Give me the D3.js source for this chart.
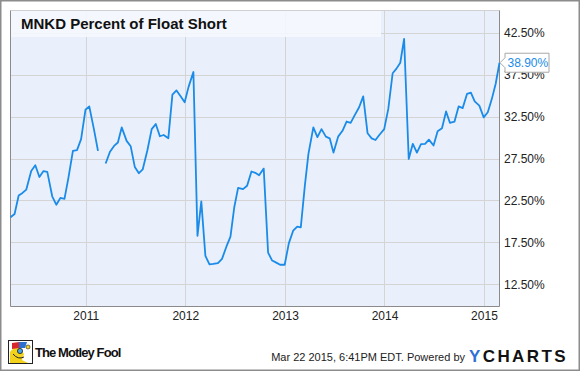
<!DOCTYPE html>
<html>
<head>
<title>MNKD Percent of Float Short</title>
<script src="https://d3js.org/d3.v7.min.js"></script>
<style>
  html, body { margin:0; padding:0; background:#fff; }
  svg { display:block; font-family:"Liberation Sans", Arial, sans-serif; }
</style>
</head>
<body>
<svg id="chart"></svg>
<script>
// short interest as % of float, reported twice a month
var dates = [
  "2010-03-31","2010-04-15","2010-04-30","2010-05-14","2010-05-28","2010-06-15","2010-06-30","2010-07-15","2010-07-30","2010-08-13",
  "2010-08-31","2010-09-15","2010-09-30","2010-10-15","2010-10-29","2010-11-15","2010-11-30","2010-12-15","2010-12-31",
  "2011-01-14","2011-01-31","2011-02-15","2011-02-28","2011-03-15","2011-03-31","2011-04-15","2011-04-29","2011-05-13","2011-05-31",
  "2011-06-15","2011-06-30","2011-07-15","2011-07-29","2011-08-15","2011-08-31","2011-09-15","2011-09-30","2011-10-14","2011-10-31",
  "2011-11-15","2011-11-30","2011-12-15","2011-12-30",
  "2012-01-13","2012-01-31","2012-02-15","2012-02-29","2012-03-15","2012-03-30","2012-04-13","2012-04-30","2012-05-15","2012-05-31",
  "2012-06-15","2012-06-29","2012-07-13","2012-07-31","2012-08-15","2012-08-31","2012-09-14","2012-09-28","2012-10-15","2012-10-31",
  "2012-11-15","2012-11-30","2012-12-14","2012-12-31",
  "2013-01-15","2013-01-31","2013-02-15","2013-02-28","2013-03-15","2013-03-28","2013-04-15","2013-04-30","2013-05-15","2013-05-31",
  "2013-06-14","2013-06-28","2013-07-15","2013-07-31","2013-08-15","2013-08-30","2013-09-13","2013-09-30","2013-10-15","2013-10-31",
  "2013-11-15","2013-11-29","2013-12-13","2013-12-31",
  "2014-01-15","2014-01-31","2014-02-14","2014-02-28","2014-03-14","2014-03-31","2014-04-15","2014-04-30","2014-05-15","2014-05-30",
  "2014-06-13","2014-06-30","2014-07-15","2014-07-31","2014-08-15","2014-08-29","2014-09-15","2014-09-30","2014-10-15","2014-10-31",
  "2014-11-14","2014-11-28","2014-12-15","2014-12-31",
  "2015-01-15","2015-01-30","2015-02-13","2015-02-27"
];
var values = [
  20.5,20.9,23.1,23.4,23.8,26.0,26.7,25.3,26.0,25.9,
  23.0,22.0,22.8,22.7,25.1,28.4,28.5,29.8,33.3,
  33.7,31.0,28.4,null,26.9,28.3,29.0,29.4,31.2,29.6,
  28.95,26.5,25.75,26.2,28.45,31.0,31.6,30.15,30.3,29.9,
  35.1,35.6,34.9,34.2,
  36.0,37.8,18.3,22.4,15.9,14.9,14.95,15.05,15.55,17.0,
  18.2,21.7,24.0,23.85,24.25,25.95,25.8,25.5,26.3,16.3,
  15.35,15.1,14.85,14.85,
  17.4,18.9,19.4,19.3,24.3,28.05,31.2,30.05,31.0,30.1,
  29.9,28.2,30.1,30.8,31.9,31.75,32.6,33.6,34.9,30.5,
  29.9,29.7,30.3,31.0,
  33.4,37.65,38.2,38.9,41.75,27.45,29.25,28.2,29.2,29.25,
  29.75,29.05,30.75,31.1,33.1,31.75,31.9,33.7,33.5,35.2,
  35.35,34.3,33.8,32.4,
  33.0,34.6,36.4,38.9
];
var yTicks = [12.5, 17.5, 22.5, 27.5, 32.5, 37.5, 42.5];
var xTicks = ["2011-01-01","2012-01-01","2013-01-01","2014-01-01","2015-01-01"];
var title = "MNKD Percent of Float Short";
var lastLabel = "38.90%";
var stamp = "Mar 22 2015, 6:41PM EDT.";

var width = 580, height = 371;
var plotLeft = 10.5, plotRight = 499.5, plotTop = 10.5, plotBottom = 306.5;
var parse = d3.timeParse("%Y-%m-%d");

var svg = d3.select("#chart").attr("width", width).attr("height", height);

svg.append("rect")
  .attr("x", 0.75).attr("y", 0.75)
  .attr("width", width - 1.5).attr("height", height - 1.5)
  .attr("fill", "#fff").attr("stroke", "#8c8c8c").attr("stroke-width", 1.5);

var data = dates.map(function(d, i) { return {date: parse(d), value: values[i]}; });

var x = d3.scaleTime()
  .domain([data[0].date, data[data.length - 1].date])
  .range([plotLeft, plotRight]);
var y = d3.scaleLinear()
  .domain([9.88, 45.12])
  .range([plotBottom, plotTop]);

// plot background
svg.append("rect")
  .attr("x", plotLeft).attr("y", plotTop)
  .attr("width", plotRight - plotLeft).attr("height", plotBottom - plotTop)
  .attr("fill", "#e9f0fb");

// grid
svg.append("g").selectAll("line").data(yTicks).enter().append("line")
  .attr("x1", plotLeft).attr("x2", plotRight)
  .attr("y1", function(d) { return Math.round(y(d)) + 0.5; })
  .attr("y2", function(d) { return Math.round(y(d)) + 0.5; })
  .attr("stroke", "#d4d4d4").attr("stroke-width", 1);
svg.append("g").selectAll("line").data(xTicks).enter().append("line")
  .attr("x1", function(d) { return Math.round(x(parse(d))) + 0.5; })
  .attr("x2", function(d) { return Math.round(x(parse(d))) + 0.5; })
  .attr("y1", plotTop).attr("y2", plotBottom)
  .attr("stroke", "#d4d4d4").attr("stroke-width", 1);

// title band
svg.append("rect")
  .attr("x", plotLeft + 0.5).attr("y", plotTop + 0.5)
  .attr("width", 370).attr("height", 26)
  .attr("fill", "#f6f9fe").attr("opacity", 0.85);
svg.append("text")
  .attr("x", 21).attr("y", 29)
  .attr("font-size", 15).attr("font-weight", "bold").attr("fill", "#111")
  .text(title);

// frame
svg.append("line").attr("x1", plotLeft).attr("x2", plotRight).attr("y1", plotTop).attr("y2", plotTop)
  .attr("stroke", "#d0d0d0");
svg.append("line").attr("x1", plotLeft).attr("x2", plotLeft).attr("y1", plotTop).attr("y2", plotBottom)
  .attr("stroke", "#8a8a8a");
svg.append("line").attr("x1", plotRight).attr("x2", plotRight).attr("y1", plotTop).attr("y2", plotBottom)
  .attr("stroke", "#8a8a8a");
svg.append("line").attr("x1", plotLeft).attr("x2", plotRight).attr("y1", plotBottom).attr("y2", plotBottom)
  .attr("stroke", "#8a8a8a");

// series
var line = d3.line()
  .defined(function(d) { return d.value !== null; })
  .x(function(d) { return x(d.date); })
  .y(function(d) { return y(d.value); });
svg.append("path")
  .datum(data)
  .attr("d", line)
  .attr("fill", "none")
  .attr("stroke", "#1a8be8")
  .attr("stroke-width", 1.8)
  .attr("stroke-linejoin", "round");

// axes labels
var yAxis = d3.axisRight(y).tickValues(yTicks).tickSize(0).tickPadding(0)
  .tickFormat(function(d) { return d3.format(".2f")(d) + "%"; });
var gy = svg.append("g").attr("transform", "translate(" + (plotRight + 4.5) + ",0)").call(yAxis);
gy.select(".domain").remove();
gy.selectAll("text").attr("font-size", 12).attr("fill", "#222")
  .attr("font-family", "Liberation Sans, Arial, sans-serif");

var xAxis = d3.axisBottom(x).tickValues(xTicks.map(parse)).tickSize(0).tickPadding(0)
  .tickFormat(d3.timeFormat("%Y"));
var gx = svg.append("g").attr("transform", "translate(0," + (plotBottom + 5) + ")").call(xAxis);
gx.select(".domain").remove();
gx.selectAll("text").attr("font-size", 12).attr("fill", "#222")
  .attr("font-family", "Liberation Sans, Arial, sans-serif");

// last value flag
var last = data[data.length - 1];
var lx = x(last.date), ly = y(last.value);
var flag = svg.append("g").attr("transform", "translate(" + lx + "," + ly + ")");
flag.append("path")
  .attr("d", "M0.5,0 L5.5,-5 L5.5,-9.5 L49.5,-9.5 L49.5,9.5 L5.5,9.5 L5.5,5 Z")
  .attr("fill", "#fff").attr("stroke", "#a8a8a8").attr("stroke-width", 1);
flag.append("text")
  .attr("x", 8).attr("y", 4.5)
  .attr("font-size", 12).attr("fill", "#1a8be8")
  .text(lastLabel);

// footer: Motley Fool
var fool = svg.append("g").attr("transform", "translate(8,340)");
fool.append("rect").attr("x", 0.5).attr("y", 0.5).attr("width", 24).attr("height", 23)
  .attr("fill", "#fff").attr("stroke", "#222");
fool.append("path").attr("d", "M2,23 L2,12 Q6,6 12,8 L16,14 L14,20 L20,23 Z").attr("fill", "#f3d21c");
fool.append("path").attr("d", "M4,3 L11,2 L11,8 L4,9 Z").attr("fill", "#d9262c");
fool.append("path").attr("d", "M11,2 L19,2 L17,8 L11,8 Z").attr("fill", "#2b6fd0");
fool.append("circle").attr("cx", 12).attr("cy", 11).attr("r", 2.6).attr("fill", "#4aa3e0").attr("stroke", "#222").attr("stroke-width", 0.8);
fool.append("path").attr("d", "M5,14 Q10,20 16,17").attr("fill", "none").attr("stroke", "#222").attr("stroke-width", 1);
fool.append("circle").attr("cx", 20).attr("cy", 7).attr("r", 2).attr("fill", "#f3d21c").attr("stroke", "#222").attr("stroke-width", 0.6);
svg.append("text")
  .attr("x", 35).attr("y", 357)
  .attr("font-size", 13).attr("font-weight", "bold").attr("letter-spacing", -0.9)
  .attr("fill", "#111")
  .text("The Motley Fool");

// footer: timestamp + YCharts
svg.append("text")
  .attr("x", 465).attr("y", 361).attr("text-anchor", "end")
  .attr("font-size", 11).attr("fill", "#222")
  .text(stamp + "  Powered by");
var yc = svg.append("text")
  .attr("x", 469).attr("y", 362)
  .attr("font-size", 17).attr("font-weight", "bold").attr("letter-spacing", 2.4)
  .attr("fill", "#111");
yc.append("tspan").attr("fill", "#2f6fd6").text("Y");
yc.append("tspan").text("CHARTS");
</script>
</body>
</html>
